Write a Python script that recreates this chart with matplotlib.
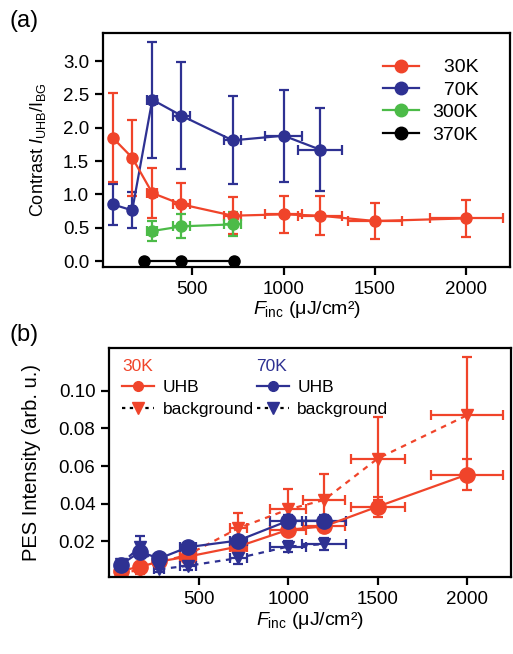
import matplotlib
matplotlib.use("Agg")
import matplotlib.pyplot as plt
from matplotlib.lines import Line2D

plt.rcParams['font.family'] = ['Liberation Sans', 'DejaVu Sans']
plt.rcParams['mathtext.fontset'] = 'custom'
plt.rcParams['mathtext.rm'] = 'Liberation Sans'
plt.rcParams['mathtext.it'] = 'Liberation Sans:italic'
plt.rcParams['font.size'] = 13

RED = '#F0442A'
BLUE = '#2E3192'
GREEN = '#4CBB48'
BLACK = '#000000'

# ---- Panel (a) data: contrast ----
x_30 = [63, 170, 280, 440, 720, 1000, 1200, 1500, 2000]
xe_30 = [6, 17, 28, 44, 47, 100, 120, 150, 200]
c_30 = [1.85, 1.55, 1.02, 0.85, 0.68, 0.70, 0.68, 0.60, 0.64]
ce_30 = [0.67, 0.57, 0.37, 0.32, 0.28, 0.28, 0.29, 0.27, 0.28]

x_70 = [63, 170, 280, 440, 720, 1000, 1200]
xe_70 = [6, 17, 28, 44, 47, 100, 122]
c_70 = [0.85, 0.76, 2.42, 2.18, 1.81, 1.88, 1.67]
ce_70 = [0.31, 0.27, 0.87, 0.80, 0.66, 0.69, 0.62]

x_300 = [280, 440, 720]
xe_300 = [28, 44, 47]
c_300 = [0.45, 0.52, 0.55]
ce_300 = [0.15, 0.18, 0.18]

x_370 = [235, 440, 725]
c_370 = [0.0, 0.0, 0.0]

# ---- Panel (b) data: PES intensity ----
uhb_30 = [0.0045, 0.0065, 0.0094, 0.012, 0.0173, 0.0262, 0.028, 0.0385, 0.0555]
uhbe_30 = [0.001, 0.0015, 0.0015, 0.002, 0.002, 0.003, 0.003, 0.0053, 0.0082]
bg_30 = [0.003, 0.005, 0.009, 0.013, 0.027, 0.037, 0.042, 0.064, 0.087]
bge_30 = [0.001, 0.002, 0.003, 0.004, 0.008, 0.011, 0.014, 0.022, 0.031]

uhb_70 = [0.0075, 0.0145, 0.011, 0.017, 0.0205, 0.031, 0.031]
uhbe_70 = [0.001, 0.0015, 0.0015, 0.002, 0.002, 0.003, 0.003]
bg_70 = [0.008, 0.017, 0.0053, 0.0071, 0.0112, 0.0173, 0.0186]
bge_70 = [0.002, 0.006, 0.0015, 0.002, 0.003, 0.003, 0.003]

fig = plt.figure(figsize=(5.13, 6.54), dpi=100)
ax1 = fig.add_axes([0.2008, 0.5917, 0.7934, 0.3578])
ax2 = fig.add_axes([0.2131, 0.1173, 0.7830, 0.3502])

LW = 1.6
eb_kw = dict(capsize=3.5, elinewidth=LW, capthick=LW, lw=LW, ms=8, marker='o')
ax1.errorbar(x_70, c_70, yerr=ce_70, xerr=xe_70, color=BLUE, **eb_kw)
ax1.errorbar(x_30, c_30, yerr=ce_30, xerr=xe_30, color=RED, **eb_kw)
ax1.errorbar(x_300, c_300, yerr=ce_300, xerr=xe_300, color=GREEN, **eb_kw)
ax1.plot(x_370, c_370, color=BLACK, marker='o', lw=LW, ms=8, clip_on=False)

h = [Line2D([], [], color=c, marker='o', lw=LW, ms=9) for c in (RED, BLUE, GREEN, BLACK)]
ax1.legend(h, ['\u200730K', '\u200770K', '300K', '370K'], loc='upper right',
           frameon=False, fontsize=14, handlelength=1.85, labelspacing=0.25,
           bbox_to_anchor=(0.965, 0.965), handletextpad=0.7)

ax1.set_xlim(10, 2240)
ax1.set_ylim(-0.09, 3.42)
ax1.set_yticks([0.0, 0.5, 1.0, 1.5, 2.0, 2.5, 3.0])
ax1.set_xticks([500, 1000, 1500, 2000])
ax1.set_ylabel(r'Contrast $\mathit{I}_{\mathrm{UHB}}/\mathrm{I}_{\mathrm{BG}}$', fontsize=13, labelpad=11)
ax1.set_xlabel(r'$\mathit{F}_{\mathrm{inc}}$ (μJ/cm²)', fontsize=14, labelpad=1)

# Panel b
eb_b = dict(capsize=3.5, elinewidth=LW, capthick=LW, lw=LW)
ax2.errorbar(x_30, bg_30, yerr=bge_30, xerr=xe_30, color=RED, marker='v', ms=9, ls=(0, (2.5, 2.5)), **eb_b)
ax2.errorbar(x_30, uhb_30, yerr=uhbe_30, xerr=xe_30, color=RED, marker='o', ms=11, ls='-', **eb_b)
ax2.errorbar(x_70, bg_70, yerr=bge_70, xerr=xe_70, color=BLUE, marker='v', ms=9, ls=(0, (2.5, 2.5)), **eb_b)
ax2.errorbar(x_70, uhb_70, yerr=uhbe_70, xerr=xe_70, color=BLUE, marker='o', ms=11, ls='-', **eb_b)

def leg_handles(c):
    return [Line2D([], [], color=c, marker='o', lw=LW, ms=7),
            Line2D([], [], color='black', ls=(0, (1.5, 2.0)), lw=LW, marker='v',
                   mfc=c, mec=c, ms=8)]

leg_kw = dict(loc='upper left', frameon=False, fontsize=12.5, title_fontsize=12.5,
              alignment='left', handlelength=1.85, labelspacing=0.35, handletextpad=0.5,
              borderaxespad=0.3, borderpad=0.2)
l1 = ax2.legend(leg_handles(RED), ['UHB', 'background'], title='30K',
                bbox_to_anchor=(0.01, 0.99), **leg_kw)
l1.get_title().set_color(RED)
ax2.add_artist(l1)
l2 = ax2.legend(leg_handles(BLUE), ['UHB', 'background'], title='70K',
                bbox_to_anchor=(0.345, 0.99), **leg_kw)
l2.get_title().set_color(BLUE)

ax2.set_xlim(0, 2245)
ax2.set_ylim(0.001, 0.1225)
ax2.set_yticks([0.02, 0.04, 0.06, 0.08, 0.10])
ax2.set_yticklabels(['0.02', '0.04', '0.06', '0.08', '0.10'])
ax2.set_xticks([500, 1000, 1500, 2000])
ax2.set_ylabel('PES Intensity (arb. u.)', fontsize=14.5, labelpad=13)
ax2.set_xlabel(r'$\mathit{F}_{\mathrm{inc}}$ (μJ/cm²)', fontsize=14, labelpad=1)

for ax in (ax1, ax2):
    for s in ax.spines.values():
        s.set_linewidth(1.6)
    ax.tick_params(direction='out', length=6, width=1.6, labelsize=13.5, pad=4)

fig.text(0.018, 0.985, '(a)', fontsize=17, va='top')
fig.text(0.018, 0.505, '(b)', fontsize=17, va='top')

fig.savefig('out.png', dpi=100)
